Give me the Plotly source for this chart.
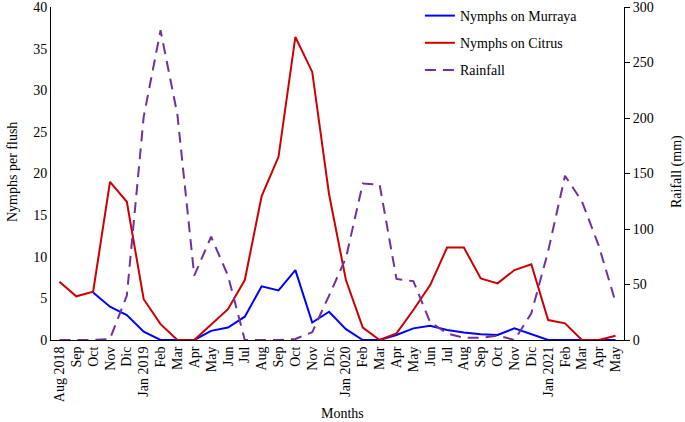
import plotly.graph_objects as go

months = ["Aug 2018", "Sep", "Oct", "Nov", "Dic", "Jan 2019", "Feb", "Mar", "Apr", "May", "Jun", "Jul",
          "Aug", "Sep", "Oct", "Nov", "Dic", "Jan 2020", "Feb", "Mar", "Apr", "May", "Jun", "Jul",
          "Aug", "Sep", "Oct", "Nov", "Dic", "Jan 2021", "Feb", "Mar", "Apr", "May"]

murraya = [None, None, 5.7, 4.0, 3.0, 1.0, 0, 0, 0, 1.1, 1.5, 2.8,
           6.45, 5.95, 8.4, 2.1, 3.4, 1.3, 0, 0, 0.6, 1.4, 1.7, 1.2,
           0.9, 0.7, 0.6, 1.4, 0.7, 0, 0, 0, 0, 0]

citrus = [7.0, 5.25, 5.8, 19.0, 16.6, 4.9, 1.9, 0, 0, 1.8, 3.7, 7.2,
          17.3, 22.0, 36.4, 32.2, 17.5, 7.2, 1.5, 0, 0.8, 3.6, 6.6, 11.1,
          11.1, 7.4, 6.8, 8.4, 9.1, 2.4, 2.0, 0, 0, 0.5]

rainfall = [0, 0, 0, 1, 40, 201, 279, 203, 58, 93, 58, 0,
            0, 0, 1, 7, 40, 74, 141, 140, 55, 53, 16, 6,
            2, 2, 4, 0, 24, 80, 148, 125, 85, 34]

font_family = "Liberation Serif"
x = list(range(len(months)))

W, H = 685, 422
l, r, t, b = 51, 61, 7, 82
pw, ph = W - l - r, H - t - b

fig = go.Figure()
fig.add_trace(go.Scatter(x=x, y=murraya, mode="lines", name="Nymphs on Murraya", legendgroup="a",
                         line=dict(color="#0000FF", width=2)))
fig.add_trace(go.Scatter(x=x, y=citrus, mode="lines", name="Nymphs on Citrus", legendgroup="b",
                         line=dict(color="#CC0000", width=2)))
fig.add_trace(go.Scatter(x=x, y=rainfall, mode="lines", name="Rainfall", yaxis="y2", legendgroup="c",
                         line=dict(color="#7030A0", width=2, dash="11px,7px")))


def title_ann(text, px, py, angle=0):
    return dict(text=text, x=(px - l) / pw, y=(H - b - py) / ph, xref="paper", yref="paper",
                xanchor="center", yanchor="middle", textangle=angle, showarrow=False,
                font=dict(family=font_family, size=14, color="black"))


fig.update_layout(
    width=W, height=H,
    margin=dict(l=l, r=r, t=t, b=b, autoexpand=False),
    paper_bgcolor="white", plot_bgcolor="white",
    font=dict(family=font_family, size=14, color="black"),
    showlegend=True,
    legend=dict(x=0.613, y=1.0, xref="container", yref="container", xanchor="left", yanchor="top",
                bgcolor="rgba(0,0,0,0)",
                font=dict(family=font_family, size=14), tracegroupgap=6, itemwidth=30),
    xaxis=dict(tickmode="array", tickvals=x, ticktext=months, tickangle=-90,
               range=[-0.5, len(months) - 0.5], showgrid=False, zeroline=False,
               showline=True, linecolor="black", linewidth=1, ticks="", automargin=False,
               tickfont=dict(family=font_family, size=14)),
    yaxis=dict(range=[0, 40], dtick=5, showgrid=False, zeroline=False,
               showline=True, linecolor="black", linewidth=1, ticks="", automargin=False,
               ticklabeloverflow="allow",
               tickfont=dict(family=font_family, size=14)),
    yaxis2=dict(range=[0, 300], dtick=50, overlaying="y", side="right", showgrid=False,
                zeroline=False, showline=True, linecolor="black", linewidth=1,
                ticks="outside", ticklen=5, tickcolor="black", automargin=False,
                ticklabeloverflow="allow",
                tickfont=dict(family=font_family, size=14)),
    annotations=[
        title_ann("Months", 342, 413),
        title_ann("Nymphs per flush", 12, 172, -90),
        title_ann("Raifall (mm)", 677, 172, -90),
    ],
)

fig.write_html("out.html", config={"displayModeBar": False},
               post_script="document.body.style.margin='0';document.body.style.padding='0';")
